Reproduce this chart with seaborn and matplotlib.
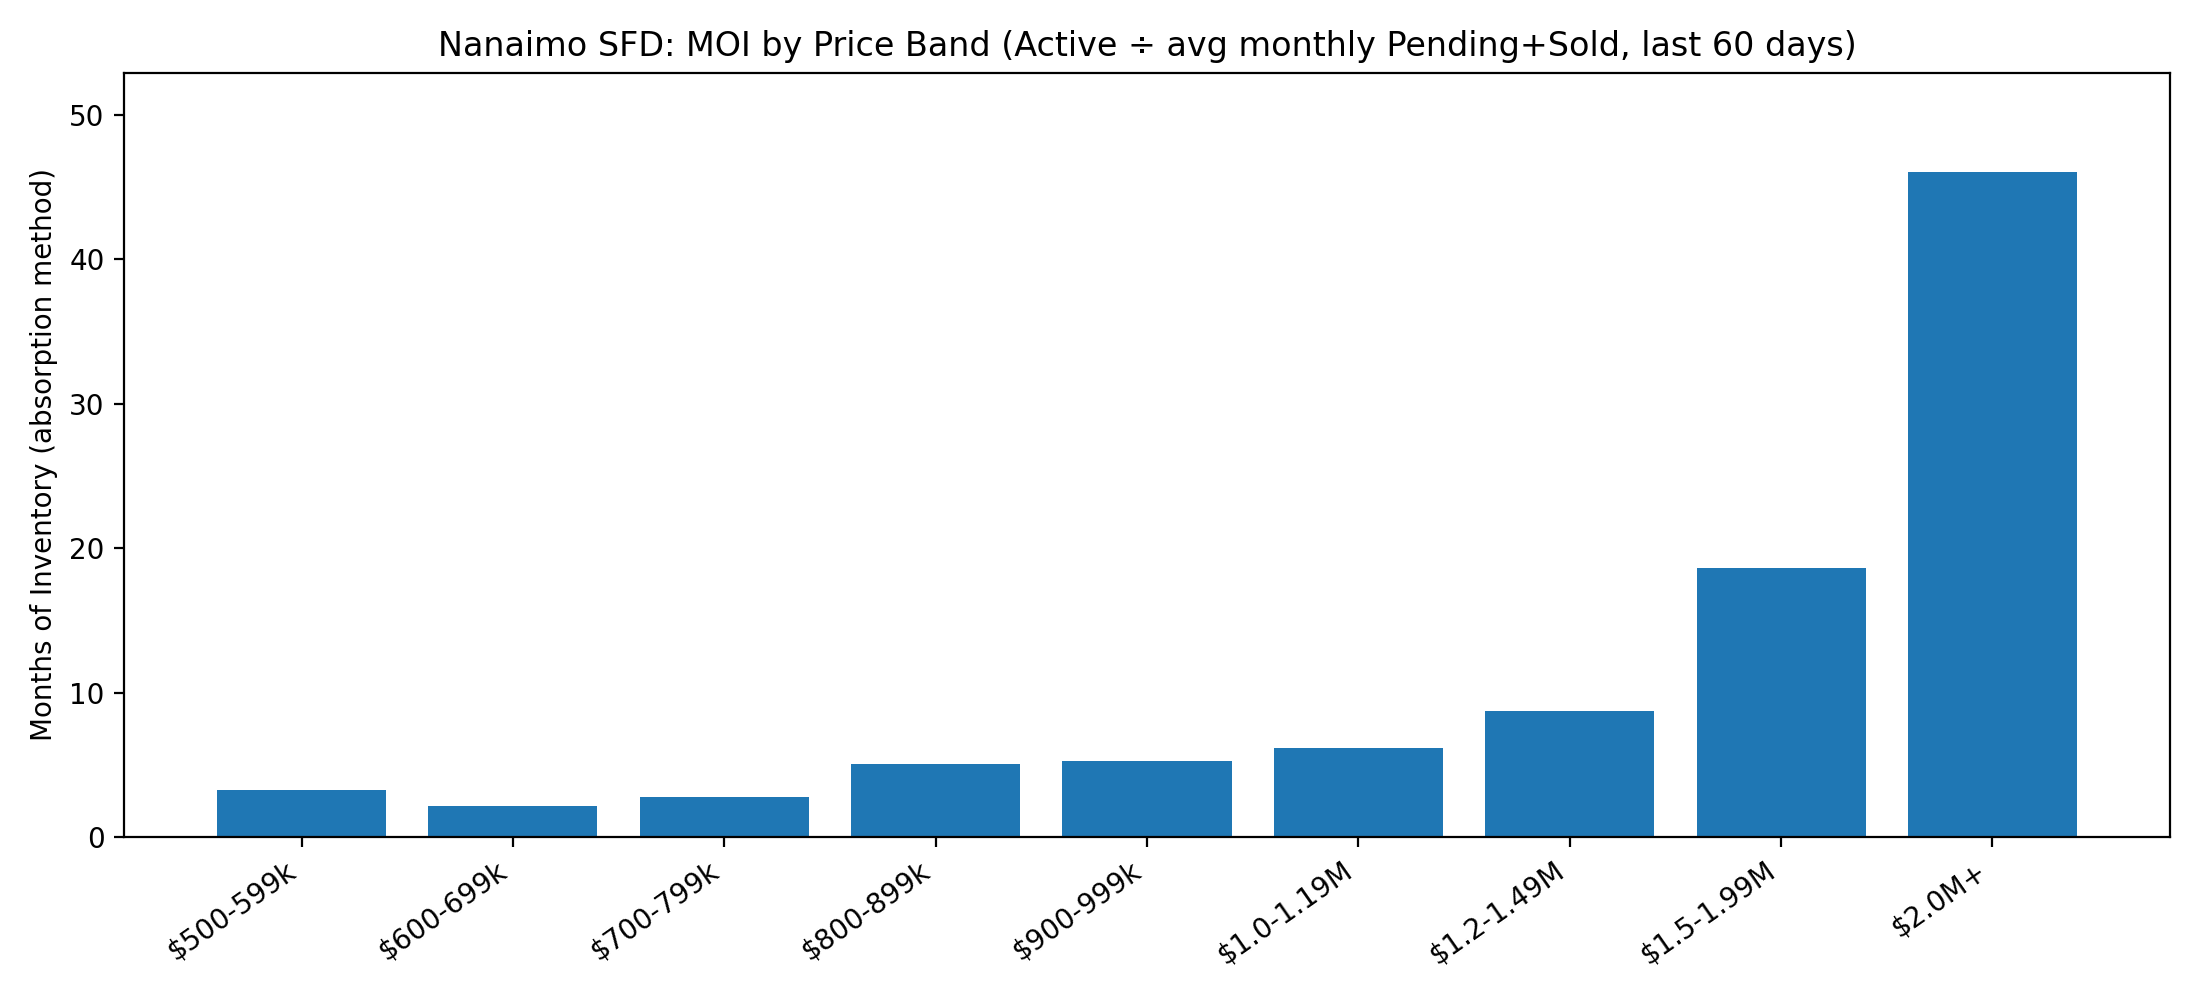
import matplotlib
matplotlib.use("Agg")
import matplotlib.pyplot as plt
import seaborn as sns
import pandas as pd

bands = ["$500-599k", "$600-699k", "$700-799k", "$800-899k", "$900-999k",
         "$1.0-1.19M", "$1.2-1.49M", "$1.5-1.99M", "$2.0M+"]
moi = [3.25, 2.15, 2.75, 5.05, 5.3, 6.2, 8.7, 18.65, 46.0]

df = pd.DataFrame({"band": bands, "moi": moi})

fig, ax = plt.subplots(figsize=(11, 5), dpi=200)
sns.barplot(data=df, x="band", y="moi", color="#1f77b4", saturation=1,
            width=0.8, ax=ax)
ax.set_ylim(0, max(moi) * 1.15)
n = len(bands)
span = (n - 1) + 0.8
ax.set_xlim(-0.4 - 0.05 * span, n - 1 + 0.4 + 0.05 * span)
ax.set_title("Nanaimo SFD: MOI by Price Band (Active \u00f7 avg monthly Pending+Sold, last 60 days)")
ax.set_ylabel("Months of Inventory (absorption method)")
ax.set_xlabel("")
plt.setp(ax.get_xticklabels(), rotation=35, ha="right")
fig.tight_layout()
fig.savefig("out.png", dpi=200)
